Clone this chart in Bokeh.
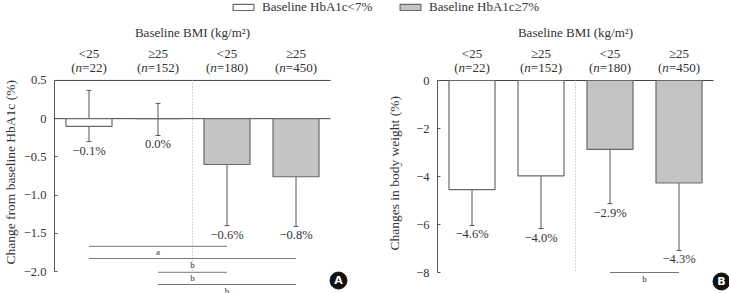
from bokeh.plotting import figure
from bokeh.layouts import row, column
from bokeh.models import (ColumnDataSource, Range1d, FixedTicker, Whisker, TeeHead,
                          Title, Legend, LegendItem)
from bokeh.core.properties import value
from bokeh.embed import file_html
from bokeh.resources import INLINE

# ---------------- data ----------------
groups = [1, 2, 3, 4]
bmi_labels = ["<25", "\u226525", "<25", "\u226525"]
n_values = [22, 152, 180, 450]
header = "Baseline BMI (kg/m\u00b2)"
legend_labels = ["Baseline HbA1c<7%", "Baseline HbA1c\u22657%"]

hba1c_change = [-0.1, 0.0, -0.6, -0.76]
hba1c_upper = [0.37, 0.2, -0.1, -0.2]
hba1c_lower = [-0.30, -0.22, -1.40, -1.41]
hba1c_text = ["\u22120.1%", "0.0%", "\u22120.6%", "\u22120.8%"]
hba1c_ticks = [0.5, 0, -0.5, -1.0, -1.5, -2.0]
hba1c_tick_labels = ["0.5", "0", "\u22120.5", "\u22121.0", "\u22121.5", "\u22122.0"]
hba1c_sig_pairs = [(1, 3), (1, 4), (2, 3), (2, 4)]
hba1c_sig_levels = [-1.67, -1.83, -2.01, -2.17]
hba1c_sig_marks = ["a", "b", "b", "b"]

weight_change = [-4.55, -3.97, -2.87, -4.27]
weight_upper = [-1.67, -1.42, 0.0, -1.6]
weight_lower = [-6.04, -6.17, -5.13, -7.08]
weight_text = ["\u22124.6%", "\u22124.0%", "\u22122.9%", "\u22124.3%"]
weight_ticks = [0, -2, -4, -6, -8]
weight_tick_labels = ["0", "\u22122", "\u22124", "\u22126", "\u22128"]
weight_sig_pairs = [(3, 4)]
weight_sig_levels = [-8.0]
weight_sig_marks = ["b"]

# ---------------- style ----------------
FONT = "Liberation Serif"
TXT = "#333333"
LINE = "#555555"
GRAY = "#c4c4c4"
EDGE = "#6a6a6a"
STRIP_H = 15
PANEL_H = 293 - STRIP_H
TOP_PX = 80 - STRIP_H


def make_panel(width, left_border, xr, yr, vals, up, lo, vtext, ticks, tlabels, ymin, ytop,
               pairs, levels, marks, ylabel, title_offset, title_standoff, letter, top_line):
    p = figure(width=width, height=PANEL_H, output_backend="svg", toolbar_location=None,
               x_range=Range1d(*xr), y_range=Range1d(*yr), x_axis_location=None,
               min_border_left=left_border, min_border_right=0, min_border_top=0,
               min_border_bottom=0)
    p.xgrid.visible = False
    p.ygrid.visible = False
    p.outline_line_color = None
    p.background_fill_color = "white"
    p.border_fill_color = "white"

    ax = p.yaxis[0]
    ax.ticker = FixedTicker(ticks=ticks)
    ax.major_label_overrides = {t: l for t, l in zip(ticks, tlabels)}
    ax.bounds = (ymin, ytop)
    ax.axis_line_color = LINE
    ax.major_tick_line_color = LINE
    ax.major_tick_in = 3
    ax.major_tick_out = 0
    ax.minor_tick_line_color = None
    ax.major_label_standoff = 8
    ax.major_label_text_font = FONT
    ax.major_label_text_font_size = "12.5px"
    ax.major_label_text_color = TXT

    # axis title (vertical, placed left of the tick labels)
    p.add_layout(Title(text=ylabel, align="left", offset=title_offset, vertical_align="top",
                       standoff=title_standoff, text_font=FONT, text_font_size="13.5px",
                       text_font_style="normal", text_color=TXT), "left")

    # top / zero lines
    hl = [0] + ([ytop] if top_line else [])
    p.segment(x0=[0.5] * len(hl), x1=[4.5] * len(hl), y0=hl, y1=hl, line_color="#444444",
              line_width=1)
    # dotted separator between groups
    p.segment(x0=[2.5], x1=[2.5], y0=[ytop], y1=[ymin], line_color="#aaaaaa",
              line_dash="1 2", line_width=1)

    src = ColumnDataSource(dict(x=groups, top=vals, up=up, lo=lo, txt=vtext))
    w_src = ColumnDataSource(dict(x=groups[:2], top=vals[:2]))
    g_src = ColumnDataSource(dict(x=groups[2:], top=vals[2:]))
    p.vbar(x="x", top="top", bottom=0, width=0.667, source=w_src, fill_color="white",
           line_color=EDGE, line_width=1.2)
    p.vbar(x="x", top="top", bottom=0, width=0.667, source=g_src, fill_color=GRAY,
           line_color=EDGE, line_width=1.2)
    wh = Whisker(base="x", upper="up", lower="lo", source=src, line_color=LINE, line_width=1,
                 upper_head=TeeHead(size=5, line_color=LINE, line_width=1),
                 lower_head=TeeHead(size=5, line_color=LINE, line_width=1))
    p.add_layout(wh)
    p.text(x="x", y="lo", text="txt", source=src, text_align="center",
           text_baseline="middle", y_offset=9, text_font=value(FONT),
           text_font_size="12.5px", text_color=TXT)

    # headers
    p.text(x=[2.5], y=[ytop], text=[header], text_align="center", text_baseline="middle",
           y_offset=-48, text_font=value(FONT), text_font_size="13px", text_color=TXT)
    p.text(x=groups, y=[ytop] * 4, text=bmi_labels, text_align="center",
           text_baseline="middle", y_offset=-27, text_font=value(FONT),
           text_font_size="13px", text_color=TXT)
    # "(n=..)" with italic n
    em = 13.0
    for g, n in zip(groups, n_values):
        rest = "=%d)" % n
        w_rest = 0.564 * em + 0.5 * em * len(str(n)) + 0.333 * em
        total = 0.333 * em + 0.5 * em + w_rest
        cn = -total / 2 + 0.333 * em + 0.25 * em
        common = dict(text_baseline="middle", y_offset=-13, text_font=value(FONT),
                      text_font_size="13px", text_color=TXT)
        p.text(x=[g], y=[ytop], text=["("], text_align="right", x_offset=cn - 0.25 * em,
               **common)
        p.text(x=[g], y=[ytop], text=["n"], text_align="center", x_offset=cn,
               text_font_style="italic", **common)
        p.text(x=[g], y=[ytop], text=[rest], text_align="left", x_offset=cn + 0.25 * em,
               **common)

    # significance brackets
    x0 = [a for a, b in pairs]
    x1 = [b for a, b in pairs]
    p.segment(x0=x0, x1=x1, y0=levels, y1=levels, line_color="#777777", line_width=1)
    p.text(x=[(a + b) / 2 for a, b in pairs], y=levels, text=marks, text_align="center",
           text_baseline="top", y_offset=1, text_font=value(FONT), text_font_size="9px",
           text_color=TXT)

    # panel letter
    ly = ymin - (yr[1] - yr[0]) * 9.0 / PANEL_H
    p.scatter(x=[4.616], y=[ly], size=17, color="#111111")
    p.text(x=[4.616], y=[ly], text=[letter], text_align="center", text_baseline="middle",
           text_font=value("DejaVu Sans"), text_font_style="bold", text_font_size="11px",
           text_color="white")
    return p


# legend strip across both panels (proxy bars lie outside the visible range)
lg = figure(width=729, height=STRIP_H, output_backend="svg", toolbar_location=None,
            x_range=Range1d(0, 729), y_range=Range1d(0, 1), min_border=0,
            x_axis_location=None, y_axis_location=None)
lg.grid.visible = False
lg.outline_line_color = None
proxy = ColumnDataSource(dict(x=[5000], top=[-5], bottom=[-6]))
r_white = lg.vbar(x="x", top="top", bottom="bottom", width=1, source=proxy,
                  fill_color="white", line_color=EDGE, line_width=1.2)
r_gray = lg.vbar(x="x", top="top", bottom="bottom", width=1, source=proxy,
                 fill_color=GRAY, line_color=EDGE, line_width=1.2)
for lab, rend, loc in [(legend_labels[0], r_white, (230, 0)),
                       (legend_labels[1], r_gray, (397, 0))]:
    lg.add_layout(Legend(items=[LegendItem(label=lab, renderers=[rend])], location=loc,
                         orientation="horizontal", padding=0, margin=0,
                         border_line_color=None, background_fill_alpha=0, glyph_width=26,
                         glyph_height=8, label_height=10, label_standoff=6,
                         label_text_font=FONT, label_text_font_size="13px",
                         label_text_color=TXT, label_text_baseline="middle"))

# left panel: frame x 54..375, 69 px per group; 76.5 px per unit
p1 = make_panel(375, 54, (0.5, 0.5 + 321 / 69),
                (-2.0 - 22 / 76.5, 0.5 + TOP_PX / 76.5), hba1c_change, hba1c_upper,
                hba1c_lower, hba1c_text, hba1c_ticks, hba1c_tick_labels, -2.0, 0.5,
                hba1c_sig_pairs, hba1c_sig_levels, hba1c_sig_marks,
                "Change from baseline HbA1c (%)", 29, 1, "A", True)
# right panel: frame x 437..729; 24 px per unit
p2 = make_panel(354, 62, (0.5, 0.5 + 292 / 69), (-8.875, TOP_PX / 24), weight_change,
                weight_upper, weight_lower, weight_text, weight_ticks, weight_tick_labels,
                -8.0, 0.0, weight_sig_pairs, weight_sig_levels, weight_sig_marks,
                "Changes in body weight (%)", 43, 20, "B", False)

layout = column(lg, row(p1, p2))
open("out.html", "w").write(file_html(layout, INLINE))
